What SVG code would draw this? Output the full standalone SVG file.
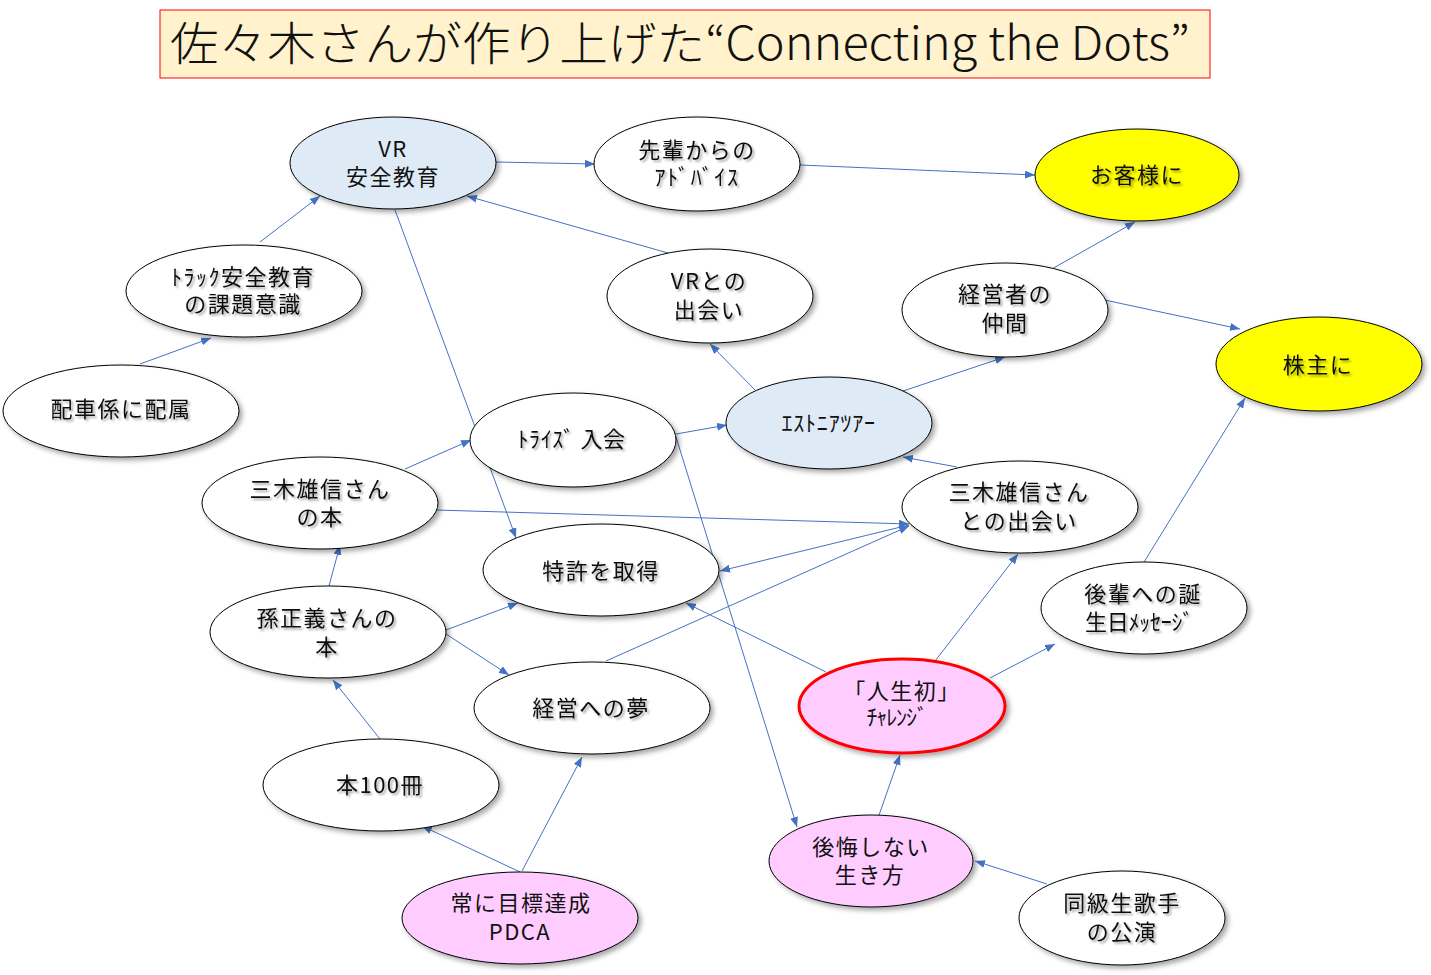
<svg xmlns="http://www.w3.org/2000/svg" width="1431" height="975" viewBox="0 0 1431 975">
<style>
.n{fill:#fff;stroke:#000;stroke-width:1;filter:url(#es)}
.b{fill:#DEEBF7}
.y{fill:#FFFF00}
.p{fill:#FFCCFF}
.r{stroke:#FF0000;stroke-width:3}
.t{font-family:"Noto Sans CJK JP","Noto Sans",sans-serif;font-size:22px;letter-spacing:1.5px;fill:#111;text-anchor:middle}
.s{filter:url(#ts)}
.c line{stroke:#4472C4;stroke-width:1;marker-end:url(#ah)}
</style>
<defs>
<filter id="es" x="-10%" y="-10%" width="130%" height="140%">
<feDropShadow dx="3" dy="3" stdDeviation="2.5" flood-color="#000" flood-opacity="0.35"/>
</filter>
<filter id="ts" x="-10%" y="-30%" width="130%" height="170%">
<feDropShadow dx="2" dy="2" stdDeviation="1.3" flood-color="#000" flood-opacity="0.35"/>
</filter>
<marker id="ah" markerWidth="10" markerHeight="8" refX="10" refY="4" orient="auto" markerUnits="userSpaceOnUse">
<path d="M0,0 L10,4 L0,8 z" fill="#4472C4"/>
</marker>
</defs>
<rect width="1431" height="975" fill="#fff"/>

<g id="title">
<rect x="160" y="10" width="1050" height="68" fill="#FFF2CC" stroke="#FF0000" stroke-width="1"/>
<text x="170" y="60" font-family="Noto Sans CJK JP,sans-serif" font-size="46" font-weight="300" fill="#111" textLength="1020" lengthAdjust="spacingAndGlyphs">佐々木さんが作り上げた“Connecting the Dots”</text>
</g>

<g id="connectors" class="c">
<line x1="496" y1="162" x2="595" y2="164"/>
<line x1="800" y1="165" x2="1035" y2="175"/>
<line x1="260" y1="242" x2="320" y2="196"/>
<line x1="140" y1="364" x2="211" y2="338"/>
<line x1="668" y1="253" x2="467" y2="196"/>
<line x1="395" y1="210" x2="516" y2="538"/>
<line x1="755" y1="390" x2="710" y2="344"/>
<line x1="903" y1="391" x2="1005" y2="357"/>
<line x1="1050" y1="270" x2="1135" y2="222"/>
<line x1="1100" y1="299" x2="1240" y2="329"/>
<line x1="1141" y1="567" x2="1245" y2="398"/>
<line x1="676" y1="434" x2="727" y2="425"/>
<line x1="676" y1="437" x2="797" y2="827"/>
<line x1="405" y1="469" x2="471" y2="440"/>
<line x1="436" y1="510" x2="909" y2="524"/>
<line x1="909" y1="525" x2="720" y2="571"/>
<line x1="606" y1="661" x2="909" y2="526"/>
<line x1="826" y1="672" x2="686" y2="603"/>
<line x1="935" y1="661" x2="1018" y2="554"/>
<line x1="990" y1="678" x2="1055" y2="644"/>
<line x1="878" y1="818" x2="900" y2="755"/>
<line x1="1047" y1="884" x2="975" y2="861"/>
<line x1="520" y1="872" x2="422" y2="826"/>
<line x1="522" y1="871" x2="582" y2="757"/>
<line x1="380" y1="739" x2="333" y2="680"/>
<line x1="329" y1="586" x2="340" y2="545"/>
<line x1="446" y1="630" x2="518" y2="603"/>
<line x1="446" y1="634" x2="509" y2="675"/>
<line x1="957" y1="467" x2="903" y2="457"/>
</g>

<g id="vr-safety">
<ellipse class="n b" cx="393" cy="163" rx="103" ry="46"/>
<text class="t" x="393" y="157">VR</text>
<text class="t" x="393" y="185">安全教育</text>
</g>
<g id="senpai-advice">
<ellipse class="n" cx="697" cy="164" rx="103" ry="47"/>
<text class="t s" x="697" y="158">先輩からの</text>
<text class="t s" x="697" y="185" textLength="85" lengthAdjust="spacing">ｱﾄﾞﾊﾞｲｽ</text>
</g>
<g id="customers">
<ellipse class="n y" cx="1137" cy="175" rx="102" ry="46"/>
<text class="t s" x="1137" y="183">お客様に</text>
</g>
<g id="truck-safety">
<ellipse class="n" cx="244" cy="291" rx="118" ry="46"/>
<text class="t s" x="243" y="285">ﾄﾗｯｸ安全教育</text>
<text class="t s" x="243" y="312">の課題意識</text>
</g>
<g id="dispatch">
<ellipse class="n" cx="121" cy="411" rx="118" ry="46"/>
<text class="t s" x="121" y="417">配車係に配属</text>
</g>
<g id="vr-meet">
<ellipse class="n" cx="710" cy="296" rx="103" ry="47"/>
<text class="t s" x="709" y="289">VRとの</text>
<text class="t s" x="709" y="318">出会い</text>
</g>
<g id="managers">
<ellipse class="n" cx="1005" cy="310" rx="103" ry="47"/>
<text class="t s" x="1005" y="302">経営者の</text>
<text class="t s" x="1005" y="331">仲間</text>
</g>
<g id="shareholders">
<ellipse class="n y" cx="1319" cy="364" rx="103" ry="47"/>
<text class="t s" x="1318" y="373">株主に</text>
</g>
<g id="estonia">
<ellipse class="n b" cx="829" cy="423" rx="103" ry="46"/>
<text class="t" x="829" y="431" font-size="21" textLength="95" lengthAdjust="spacing">ｴｽﾄﾆｱﾂｱｰ</text>
</g>
<g id="tryz">
<ellipse class="n" cx="573" cy="440" rx="103" ry="47"/>
<text class="t s" x="572" y="447" textLength="109" lengthAdjust="spacing">ﾄﾗｲｽﾞ 入会</text>
</g>
<g id="miki-book">
<ellipse class="n" cx="320" cy="503" rx="118" ry="46"/>
<text class="t s" x="320" y="497">三木雄信さん</text>
<text class="t s" x="320" y="525">の本</text>
</g>
<g id="miki-meet">
<ellipse class="n" cx="1020" cy="507" rx="118" ry="46"/>
<text class="t s" x="1019" y="500">三木雄信さん</text>
<text class="t s" x="1019" y="529">との出会い</text>
</g>
<g id="patent">
<ellipse class="n" cx="601" cy="570" rx="118" ry="46"/>
<text class="t s" x="601" y="579">特許を取得</text>
</g>
<g id="son-book">
<ellipse class="n" cx="328" cy="632" rx="118" ry="46"/>
<text class="t s" x="327" y="626">孫正義さんの</text>
<text class="t s" x="327" y="655">本</text>
</g>
<g id="birthday">
<ellipse class="n" cx="1144" cy="608" rx="103" ry="46"/>
<text class="t s" x="1143" y="602">後輩への誕</text>
<text class="t s" x="1140" y="630" letter-spacing="0" textLength="110" lengthAdjust="spacing">生日ﾒｯｾｰｼﾞ</text>
</g>
<g id="dream">
<ellipse class="n" cx="592" cy="708" rx="118" ry="46"/>
<text class="t s" x="591" y="716">経営への夢</text>
</g>
<g id="first-challenge">
<ellipse class="n p r" cx="902" cy="706" rx="103" ry="47"/>
<text class="t" x="902" y="699">「人生初」</text>
<text class="t" x="898" y="725" font-size="18" textLength="63" lengthAdjust="spacing">ﾁｬﾚﾝｼﾞ</text>
</g>
<g id="books100">
<ellipse class="n" cx="381" cy="785" rx="118" ry="46"/>
<text class="t s" x="380" y="793" letter-spacing="0">本100冊</text>
</g>
<g id="pdca">
<ellipse class="n p" cx="520" cy="918" rx="118" ry="46"/>
<text class="t" x="521" y="911">常に目標達成</text>
<text class="t" x="520" y="940">PDCA</text>
</g>
<g id="no-regret">
<ellipse class="n p" cx="871" cy="861" rx="102" ry="46"/>
<text class="t" x="871" y="855">後悔しない</text>
<text class="t" x="870" y="883">生き方</text>
</g>
<g id="singer">
<ellipse class="n" cx="1122" cy="918" rx="103" ry="47"/>
<text class="t s" x="1122" y="911">同級生歌手</text>
<text class="t s" x="1122" y="940">の公演</text>
</g>
</svg>
